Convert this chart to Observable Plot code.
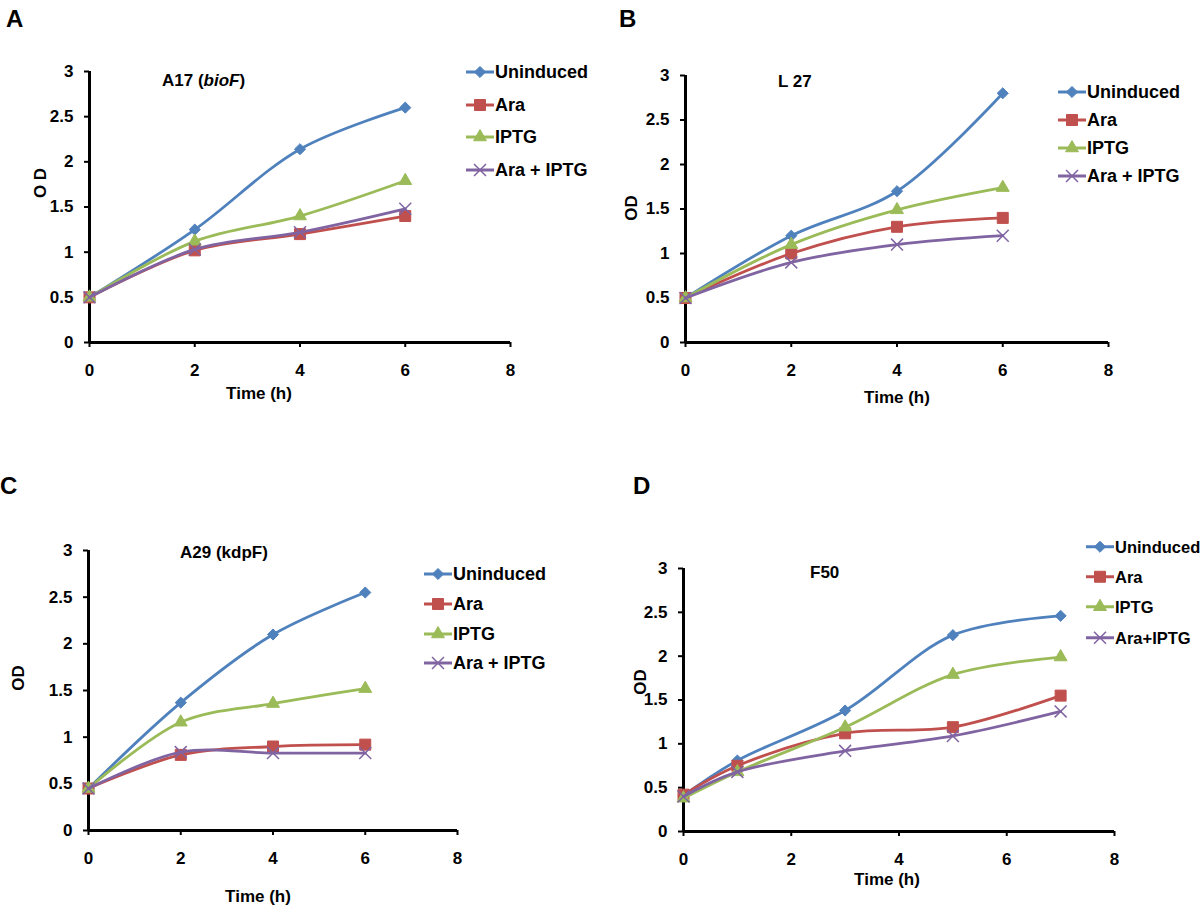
<!DOCTYPE html>
<html><head><meta charset="utf-8">
<script src="https://cdn.jsdelivr.net/npm/d3@7"></script>
<script src="https://cdn.jsdelivr.net/npm/@observablehq/plot@0.6"></script>
<style>
body{margin:0;background:#fff;font-family:"Liberation Sans",Arial,sans-serif;}
#root{position:relative;width:1200px;height:907px;overflow:hidden;background:#fff;}
.abs{position:absolute;font-weight:bold;color:#000;white-space:nowrap;line-height:1;}
.pane{position:absolute;}
.pane svg{background:transparent !important;}
</style></head><body><div id="root"></div>
<script>
// ---------- data ----------
const seriesNames = ["Uninduced", "Ara", "IPTG", "Ara + IPTG"];
const seriesNamesD = ["Uninduced", "Ara", "IPTG", "Ara+IPTG"];
const xTicks = [0, 2, 4, 6, 8];
const yTicks = [0, 0.5, 1, 1.5, 2, 2.5, 3];

const timeABC = [0, 2, 4, 6];
const timeD = [0, 1, 3, 5, 7];

// Panel A: A17 (bioF)
const A_uninduced = [0.50, 1.25, 2.14, 2.60];
const A_ara       = [0.50, 1.02, 1.20, 1.40];
const A_iptg      = [0.50, 1.12, 1.40, 1.79];
const A_araIptg   = [0.50, 1.03, 1.22, 1.48];
// Panel B: L 27
const B_uninduced = [0.50, 1.20, 1.70, 2.80];
const B_ara       = [0.50, 1.00, 1.30, 1.40];
const B_iptg      = [0.50, 1.10, 1.49, 1.74];
const B_araIptg   = [0.50, 0.90, 1.10, 1.20];
// Panel C: A29 (kdpF)
const C_uninduced = [0.45, 1.37, 2.10, 2.55];
const C_ara       = [0.45, 0.81, 0.90, 0.92];
const C_iptg      = [0.45, 1.16, 1.36, 1.52];
const C_araIptg   = [0.45, 0.84, 0.83, 0.83];
// Panel D: F50
const D_uninduced = [0.41, 0.81, 1.38, 2.24, 2.46];
const D_ara       = [0.42, 0.75, 1.12, 1.19, 1.55];
const D_iptg      = [0.38, 0.68, 1.19, 1.79, 1.99];
const D_araIptg   = [0.40, 0.68, 0.92, 1.09, 1.37];

// ---------- styles ----------
const COLORS = ["#4F81BD", "#C0504D", "#9BBB59", "#8064A2"];
const SYMS = ["diamond2", "square", "triangle", "times"];
const D3SYMS = [d3.symbolDiamond2, d3.symbolSquare, d3.symbolTriangle, d3.symbolTimes];
const RADII = [5, 6.2, 4.8, 5.5];

const root = document.getElementById("root");

function addText(html, x, y, size, opts = {}) {
  const d = document.createElement("div");
  d.className = "abs";
  d.innerHTML = html;
  d.style.fontSize = size + "px";
  d.style.left = x + "px";
  d.style.top = y + "px";
  let tf = opts.center ? "translate(-50%,-50%)" : "translate(0,-50%)";
  if (opts.rotate) tf += " rotate(-90deg)";
  d.style.transform = tf;
  root.appendChild(d);
}

function addLegend(names, lx, rows, fontSize = 18) {
  names.forEach((name, i) => {
    const wrap = document.createElement("div");
    wrap.className = "abs";
    wrap.style.left = lx + "px";
    wrap.style.top = rows[i] + "px";
    wrap.style.transform = "translate(0,-50%)";
    wrap.style.display = "flex";
    wrap.style.alignItems = "center";
    wrap.style.fontSize = fontSize + "px";
    const svg = d3.create("svg").attr("width", 28).attr("height", 16).style("overflow", "visible");
    svg.append("line").attr("x1", 0).attr("x2", 28).attr("y1", 8).attr("y2", 8)
      .attr("stroke", COLORS[i]).attr("stroke-width", 3);
    const size = Math.PI * RADII[i] * RADII[i];
    svg.append("path").attr("d", d3.symbol(D3SYMS[i], size)())
      .attr("transform", "translate(14,8)")
      .attr("fill", i === 3 ? "none" : COLORS[i])
      .attr("stroke", COLORS[i])
      .attr("stroke-width", i === 3 ? 1.5 : 1);
    wrap.appendChild(svg.node());
    const t = document.createElement("span");
    t.textContent = name;
    t.style.marginLeft = "1px";
    wrap.appendChild(t);
    root.appendChild(wrap);
  });
}

function panel(cfg) {
  const { L, T, W, H, x0, x8, y0, y3 } = cfg.box;
  const marks = [];
  marks.push(Plot.axisY({ ticks: yTicks, tickFormat: d => String(d), tickSize: 5, tickPadding: 11,
    strokeWidth: 2, label: null, fontSize: 17, fontWeight: "bold" }));
  marks.push(Plot.axisX({ ticks: xTicks, tickFormat: d => String(d), tickSize: 5, tickPadding: 16,
    strokeWidth: 2, label: null, fontSize: 17, fontWeight: "bold" }));
  marks.push(Plot.ruleY([0], { stroke: "#000", strokeWidth: 3 }));
  marks.push(Plot.ruleX([0], { stroke: "#000", strokeWidth: 3 }));
  cfg.series.forEach((vals, i) => {
    const rows = vals.map((v, j) => ({ t: cfg.time[j], od: v }));
    marks.push(Plot.line(rows, { x: "t", y: "od", stroke: COLORS[i], strokeWidth: 2.8, curve: "catmull-rom" }));
    marks.push(Plot.dot(rows, { x: "t", y: "od", symbol: SYMS[i], r: RADII[i],
      fill: i === 3 ? "none" : COLORS[i], stroke: COLORS[i], strokeWidth: i === 3 ? 1.5 : 1 }));
  });
  const chart = Plot.plot({
    width: W, height: H,
    marginLeft: x0, marginRight: W - x8, marginTop: y3, marginBottom: H - y0,
    x: { domain: [0, 8] },
    y: { domain: [0, 3] },
    style: { fontFamily: '"Liberation Sans", Arial, sans-serif', color: "#000", background: "transparent", overflow: "visible" },
    marks
  });
  const div = document.createElement("div");
  div.className = "pane";
  div.style.left = L + "px"; div.style.top = T + "px";
  div.style.width = W + "px"; div.style.height = H + "px";
  div.appendChild(chart);
  root.appendChild(div);
}

// ---------- panels ----------
panel({ box: { L: 0, T: 0, W: 600, H: 430, x0: 89, x8: 510, y0: 342, y3: 71 },
  time: timeABC, series: [A_uninduced, A_ara, A_iptg, A_araIptg] });
panel({ box: { L: 600, T: 0, W: 600, H: 430, x0: 85, x8: 508, y0: 342, y3: 75 },
  time: timeABC, series: [B_uninduced, B_ara, B_iptg, B_araIptg] });
panel({ box: { L: 0, T: 460, W: 600, H: 447, x0: 88, x8: 457, y0: 370, y3: 90 },
  time: timeABC, series: [C_uninduced, C_ara, C_iptg, C_araIptg] });
panel({ box: { L: 600, T: 460, W: 600, H: 447, x0: 83, x8: 514, y0: 371, y3: 108 },
  time: timeD, series: [D_uninduced, D_ara, D_iptg, D_araIptg] });

// ---------- texts ----------
addText("A", 6, 19, 24);
addText("B", 619, 19, 24);
addText("C", 0, 486, 24);
addText("D", 633, 486, 24);

addText("A17 (<i>bioF</i>)", 162, 80, 17);
addText("L 27", 778, 81, 17);
addText("A29 (kdpF)", 180, 552, 17);
addText("F50", 810, 572, 17);

addText("O D", 40, 183, 17, { center: true, rotate: true });
addText("OD", 631, 208, 17, { center: true, rotate: true });
addText("OD", 18, 678, 17, { center: true, rotate: true });
addText("OD", 640, 682, 17, { center: true, rotate: true });

addText("Time (h)", 259, 393, 17, { center: true });
addText("Time (h)", 897, 397, 17, { center: true });
addText("Time (h)", 258, 896, 17, { center: true });
addText("Time (h)", 887, 879, 17, { center: true });

addLegend(seriesNames, 466, [72, 105, 137, 170]);
addLegend(seriesNames, 1058, [92, 120, 148, 176]);
addLegend(seriesNames, 424, [574, 604, 634, 663]);
addLegend(seriesNamesD, 1086, [547, 577, 607, 638], 16.5);
</script></body></html>
